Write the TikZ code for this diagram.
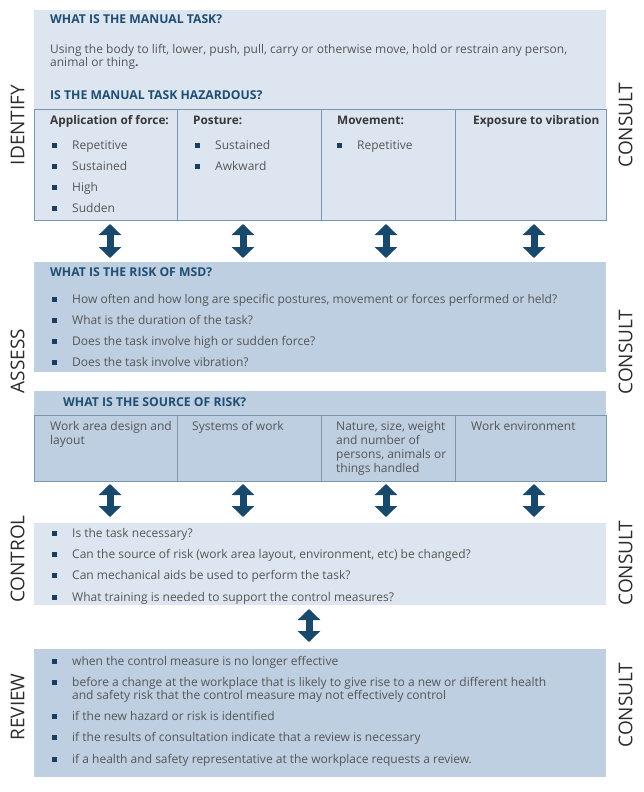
\documentclass[tikz,border=0pt]{standalone}
\usepackage{fontspec}
\setmainfont{Open Sans}
\usetikzlibrary{arrows.meta}
\definecolor{lightbg}{RGB}{221,230,240}
\definecolor{darkbg}{RGB}{190,207,225}
\definecolor{cellline}{RGB}{120,150,175}
\definecolor{titleblue}{RGB}{31,78,115}
\definecolor{arrowblue}{RGB}{24,72,107}
\definecolor{bodygray}{RGB}{85,85,85}
\definecolor{headgray}{RGB}{55,55,55}
\definecolor{bulletc}{RGB}{26,62,95}
\definecolor{labelgray}{RGB}{45,45,45}
\newcommand{\bsq}{\makebox[20pt][l]{\textcolor{bulletc}{\rule[1.5pt]{5pt}{5pt}}}}
\begin{document}
\begin{tikzpicture}[x=1pt,y=-1pt,
  panel/.style={draw=none, inner sep=0pt, outer sep=0pt, anchor=north west},
  cellbox/.style={draw=cellline, line width=0.8pt, inner sep=0pt, outer sep=0pt, anchor=north west},
  txt/.style={inner sep=0pt, anchor=base west, text=bodygray, font=\fontsize{12}{14}\selectfont},
  ttl/.style={inner sep=0pt, anchor=base west, text=titleblue, font=\fontsize{12.2}{14}\selectfont\bfseries},
  hdr/.style={inner sep=0pt, anchor=base west, text=headgray, font=\fontsize{11.8}{14}\selectfont\bfseries},
  side/.style={inner sep=0pt, rotate=90, anchor=center, text=labelgray, font=\fontsize{19}{22}\selectfont},
  dbl/.style={draw=arrowblue, line width=7pt, {Triangle[width=22pt,length=11pt]}-{Triangle[width=22pt,length=11pt]}},
]
\fill[white] (0,0) rectangle (643,792);
\useasboundingbox (0,0) rectangle (643,792);

% ---------- IDENTIFY ----------
\node[panel, fill=lightbg, minimum width=572pt, minimum height=99pt] (idtop) at (34,10) {};
\node[cellbox, fill=lightbg, minimum width=143pt, minimum height=111pt] (c1) at (34,109) {};
\node[cellbox, fill=lightbg, minimum width=144pt, minimum height=111pt] (c2) at (177,109) {};
\node[cellbox, fill=lightbg, minimum width=134pt, minimum height=111pt] (c3) at (321,109) {};
\node[cellbox, fill=lightbg, minimum width=151pt, minimum height=111pt] (c4) at (455,109) {};

\node[ttl] (q1) at (50,24) {WHAT IS THE MANUAL TASK?};
\node[txt] (p1) at (50,54) {Using the body to lift, lower, push, pull, carry or otherwise move, hold or restrain any person,};
\node[txt] (p2) at (50,66.5) {animal or thing\textbf{.}};
\node[ttl] (q2) at (50,99) {IS THE MANUAL TASK HAZARDOUS?};
\node[hdr] (h1) at (50,124) {Application of force:};
\node[hdr] (h2) at (193,124) {Posture:};
\node[hdr] (h3) at (337,124) {Movement:};
\node[hdr] (h4) at (473,124) {Exposure to vibration};
\node[txt] (f1) at (52,149) {\bsq Repetitive};
\node[txt] (f2) at (52,170) {\bsq Sustained};
\node[txt] (f3) at (52,191) {\bsq High};
\node[txt] (f4) at (52,212) {\bsq Sudden};
\node[txt] (o1) at (195,149) {\bsq Sustained};
\node[txt] (o2) at (195,170) {\bsq Awkward};
\node[txt] (m1) at (337,149) {\bsq Repetitive};

% ---------- ASSESS ----------
\node[panel, fill=darkbg, minimum width=572pt, minimum height=110pt] (risk) at (34,262) {};
\node[ttl] (q3) at (50,276) {WHAT IS THE RISK OF MSD?};
\node[txt] (r1) at (52,303) {\bsq How often and how long are specific postures, movement or forces performed or held?};
\node[txt] (r2) at (52,324) {\bsq What is the duration of the task?};
\node[txt] (r3) at (52,345) {\bsq Does the task involve high or sudden force?};
\node[txt] (r4) at (52,366) {\bsq Does the task involve vibration?};

\node[panel, fill=darkbg, minimum width=572pt, minimum height=24pt] (srctop) at (34,391) {};
\node[cellbox, fill=darkbg, minimum width=143pt, minimum height=66pt] (s1) at (34,415) {};
\node[cellbox, fill=darkbg, minimum width=144pt, minimum height=66pt] (s2) at (177,415) {};
\node[cellbox, fill=darkbg, minimum width=134pt, minimum height=66pt] (s3) at (321,415) {};
\node[cellbox, fill=darkbg, minimum width=151pt, minimum height=66pt] (s4) at (455,415) {};
\node[ttl] (q4) at (63,406) {WHAT IS THE SOURCE OF RISK?};
\node[txt] (w1) at (50,430) {Work area design and};
\node[txt] (w2) at (50,444) {layout};
\node[txt] (y1) at (192,430) {Systems of work};
\node[txt] (n1) at (336,430) {Nature, size, weight};
\node[txt] (n2) at (336,444) {and number of};
\node[txt] (n3) at (336,458) {persons, animals or};
\node[txt] (n4) at (336,472) {things handled};
\node[txt] (e1) at (471,430) {Work environment};

% ---------- CONTROL ----------
\node[panel, fill=lightbg, minimum width=572pt, minimum height=82pt] (ctrl) at (34,523) {};
\node[txt] (k1) at (52,537) {\bsq Is the task necessary?};
\node[txt] (k2) at (52,558) {\bsq Can the source of risk (work area layout, environment, etc) be changed?};
\node[txt] (k3) at (52,579) {\bsq Can mechanical aids be used to perform the task?};
\node[txt] (k4) at (52,601) {\bsq What training is needed to support the control measures?};

% ---------- REVIEW ----------
\node[panel, fill=darkbg, minimum width=572pt, minimum height=128pt] (rev) at (34,649) {};
\node[txt] (v1) at (52,665) {\bsq when the control measure is no longer effective};
\node[txt] (v2) at (52,686) {\bsq before a change at the workplace that is likely to give rise to a new or different health};
\node[txt] (v2b) at (72,699) {and safety risk that the control measure may not effectively control};
\node[txt] (v3) at (52,720) {\bsq if the new hazard or risk is identified};
\node[txt] (v4) at (52,741) {\bsq if the results of consultation indicate that a review is necessary};
\node[txt] (v5) at (52,763) {\bsq if a health and safety representative at the workplace requests a review.};

% ---------- side labels ----------
\node[side] (lid) at (17.5,125) {IDENTIFY};
\node[side] (las) at (17.5,361) {ASSESS};
\node[side] (lco) at (17.5,559) {CONTROL};
\node[side] (lre) at (17.5,707) {REVIEW};
\node[side] (rc1) at (625.5,125) {CONSULT};
\node[side] (rc2) at (625.5,352) {CONSULT};
\node[side] (rc3) at (625.5,563) {CONSULT};
\node[side] (rc4) at (625.5,705) {CONSULT};

% ---------- arrows ----------
\coordinate (ax1) at (110,0);
\coordinate (ax2) at (243,0);
\coordinate (ax3) at (386,0);
\coordinate (ax4) at (534,0);
\coordinate (ax5) at (309,0);
\draw[dbl, shorten <=4pt, shorten >=4pt] (c1.south -| ax1) -- (risk.north -| ax1);
\draw[dbl, shorten <=4pt, shorten >=4pt] (c2.south -| ax2) -- (risk.north -| ax2);
\draw[dbl, shorten <=4pt, shorten >=4pt] (c3.south -| ax3) -- (risk.north -| ax3);
\draw[dbl, shorten <=4pt, shorten >=4pt] (c4.south -| ax4) -- (risk.north -| ax4);
\draw[dbl, shorten <=3pt, shorten >=6pt] (s1.south -| ax1) -- (ctrl.north -| ax1);
\draw[dbl, shorten <=3pt, shorten >=6pt] (s2.south -| ax2) -- (ctrl.north -| ax2);
\draw[dbl, shorten <=3pt, shorten >=6pt] (s3.south -| ax3) -- (ctrl.north -| ax3);
\draw[dbl, shorten <=3pt, shorten >=6pt] (s4.south -| ax4) -- (ctrl.north -| ax4);
\draw[dbl, shorten <=4pt, shorten >=7pt] (ctrl.south -| ax5) -- (rev.north -| ax5);
\end{tikzpicture}
\end{document}
